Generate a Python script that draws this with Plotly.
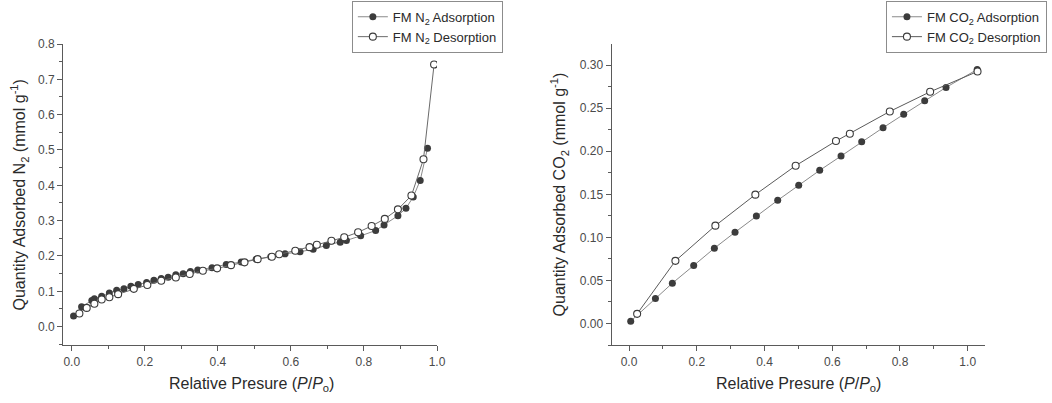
import plotly.graph_objects as go

# N2 isotherm (relative pressure vs quantity adsorbed, mmol/g)
n2_ads_p = [0.005, 0.027, 0.055, 0.062, 0.082, 0.103, 0.123, 0.143, 0.162, 0.182,
            0.205, 0.225, 0.245, 0.264, 0.285, 0.305, 0.325, 0.345, 0.384, 0.423,
            0.464, 0.505, 0.545, 0.584, 0.625, 0.661, 0.697, 0.735, 0.752, 0.791,
            0.832, 0.855, 0.893, 0.915, 0.935, 0.954, 0.974]
n2_ads_q = [0.030, 0.056, 0.074, 0.079, 0.086, 0.095, 0.103, 0.107, 0.114, 0.119,
            0.125, 0.131, 0.136, 0.140, 0.147, 0.150, 0.156, 0.160, 0.167, 0.176,
            0.183, 0.191, 0.198, 0.206, 0.212, 0.219, 0.230, 0.239, 0.244, 0.257,
            0.272, 0.288, 0.314, 0.335, 0.367, 0.414, 0.505]

n2_des_p = [0.992, 0.963, 0.930, 0.893, 0.857, 0.821, 0.784, 0.746, 0.711, 0.671,
            0.651, 0.612, 0.568, 0.548, 0.509, 0.473, 0.436, 0.398, 0.359, 0.323,
            0.285, 0.245, 0.207, 0.170, 0.127, 0.103, 0.082, 0.062, 0.041, 0.021]
n2_des_q = [0.742, 0.474, 0.371, 0.332, 0.305, 0.285, 0.267, 0.253, 0.243, 0.232,
            0.225, 0.215, 0.205, 0.198, 0.191, 0.182, 0.174, 0.165, 0.158, 0.149,
            0.139, 0.130, 0.118, 0.107, 0.092, 0.083, 0.077, 0.065, 0.053, 0.037]

# CO2 isotherm
co2_ads_p = [0.005, 0.078, 0.128, 0.191, 0.252, 0.313, 0.376, 0.439, 0.501, 0.563,
             0.626, 0.687, 0.750, 0.811, 0.873, 0.936, 1.028]
co2_ads_q = [0.0027, 0.0290, 0.0468, 0.0673, 0.0874, 0.1059, 0.1249, 0.1430, 0.1604,
             0.1778, 0.1944, 0.2111, 0.2273, 0.2428, 0.2586, 0.2741, 0.2949]

co2_des_p = [1.029, 0.889, 0.770, 0.652, 0.611, 0.492, 0.373, 0.255, 0.137, 0.024]
co2_des_q = [0.2926, 0.2690, 0.2462, 0.2203, 0.2118, 0.1832, 0.1496, 0.1136, 0.0727, 0.0112]

series_names = {
    "n2_ads": "FM N<sub>2</sub> Adsorption",
    "n2_des": "FM N<sub>2</sub> Desorption",
    "co2_ads": "FM CO<sub>2</sub> Adsorption",
    "co2_des": "FM CO<sub>2</sub> Desorption",
}

FONT = "Liberation Sans, Arial, sans-serif"
DARK = "#3c3c3c"
AXIS = "#5a5a5a"
TICKTXT = "#4a4a4a"

filled = dict(symbol="circle", size=7, color=DARK, line=dict(width=0))
hollow_face = dict(symbol="circle", size=7, color="white", line=dict(width=1.1, color=DARK))

fig = go.Figure()
fig.add_trace(go.Scatter(x=n2_ads_p, y=n2_ads_q, mode="lines+markers", name=series_names["n2_ads"],
                         line=dict(color="#8a8a8a", width=1), marker=filled,
                         xaxis="x", yaxis="y", legend="legend"))
fig.add_trace(go.Scatter(x=n2_des_p, y=n2_des_q, mode="lines+markers", name=series_names["n2_des"],
                         line=dict(color="#6a6a6a", width=1), marker=hollow_face,
                         xaxis="x", yaxis="y", legend="legend"))
fig.add_trace(go.Scatter(x=co2_ads_p, y=co2_ads_q, mode="lines+markers", name=series_names["co2_ads"],
                         line=dict(color="#8a8a8a", width=1), marker=filled,
                         xaxis="x2", yaxis="y2", legend="legend2"))
fig.add_trace(go.Scatter(x=co2_des_p, y=co2_des_q, mode="lines+markers", name=series_names["co2_des"],
                         line=dict(color="#5a5a5a", width=1), marker=hollow_face,
                         xaxis="x2", yaxis="y2", legend="legend2"))

def axis_style(rng, dtick, minor_dtick, fmt, domain, anchor):
    return dict(
        range=rng, domain=domain, anchor=anchor, dtick=dtick, tick0=0, tickformat=fmt,
        showline=True, linecolor=AXIS, linewidth=1.3, showgrid=False, zeroline=False,
        ticks="outside", ticklen=5, tickwidth=1.2, tickcolor=AXIS,
        minor=dict(dtick=minor_dtick, tick0=0, ticks="outside", ticklen=3, tickwidth=1, tickcolor=AXIS, showgrid=False),
        tickfont=dict(family=FONT, size=12, color=TICKTXT), automargin=False, fixedrange=True,
    )

ydom = [0.1439, 0.8908]
legend_common = dict(
    bgcolor="white", bordercolor="#8c8c8c", borderwidth=1,
    font=dict(family=FONT, size=13, color="#2a2a2a"),
    xanchor="right", yanchor="top", tracegroupgap=0, itemclick=False,
)

fig.update_layout(
    width=1052, height=403, margin=dict(l=0, r=0, t=0, b=0),
    paper_bgcolor="white", plot_bgcolor="white", template="none",
    xaxis=axis_style([-0.023, 1.0], 0.2, 0.1, ".1f", [0.0602, 0.4154], "y"),
    yaxis=axis_style([-0.052, 0.8], 0.1, 0.05, ".1f", ydom, "x"),
    xaxis2=axis_style([-0.051, 1.051], 0.2, 0.1, ".1f", [0.5815, 0.9363], "y2"),
    yaxis2=axis_style([-0.025, 0.3245], 0.05, 0.025, ".2f", ydom, "x2"),
    legend=dict(x=0.478, y=0.998, **legend_common),
    legend2=dict(x=0.9952, y=0.998, **legend_common),
    showlegend=True,
)

title_font = dict(family=FONT, size=16, color="#2a2a2a")
annotations = [
    dict(text="Relative Presure (<i>P</i>/<i>P</i><sub>o</sub>)", x=0.2393, y=0.0447),
    dict(text="Relative Presure (<i>P</i>/<i>P</i><sub>o</sub>)", x=0.7595, y=0.0447),
    dict(text="Quantity Adsorbed N<sub>2</sub> (mmol g<sup>-1</sup>)", x=0.019, y=0.5174, textangle=-90),
    dict(text="Quantity Adsorbed CO<sub>2</sub> (mmol g<sup>-1</sup>)", x=0.5323, y=0.5174, textangle=-90),
]
for a in annotations:
    fig.add_annotation(xref="paper", yref="paper", showarrow=False, xanchor="center", yanchor="middle",
                       font=title_font, **a)

fig.write_html("out.html")
